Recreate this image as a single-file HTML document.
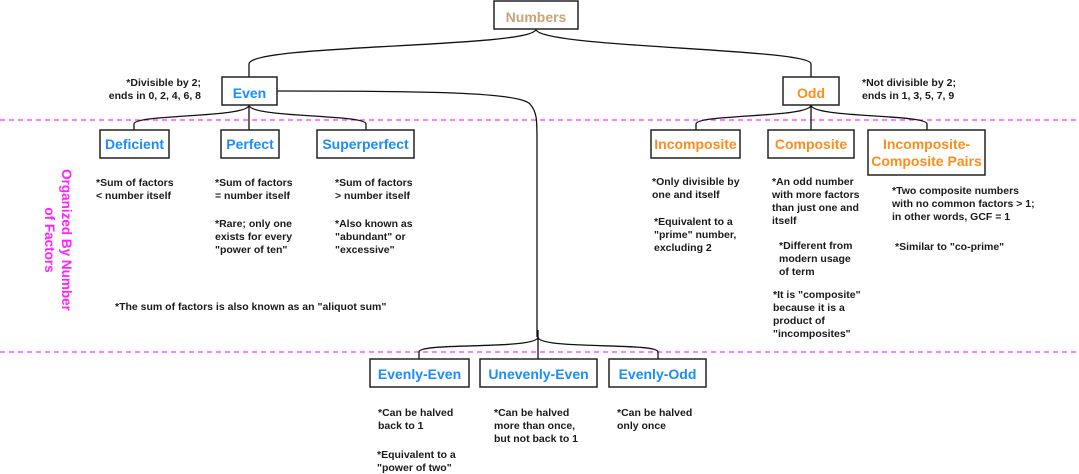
<!DOCTYPE html>
<html><head><meta charset="utf-8"><style>
html,body{margin:0;padding:0;background:#fff;}
svg{display:block;}
.n{font-family:"Liberation Sans",sans-serif;font-size:10.5px;font-weight:bold;fill:#1a1a1a;}
.b{font-family:"Liberation Sans",sans-serif;font-weight:bold;font-size:14px;text-anchor:middle;}
.blue{fill:#1a8cff;}
.or{fill:#ff8c1a;}
rect{fill:#fff;stroke:#222;stroke-width:1.5;}
path{fill:none;stroke:#111;stroke-width:1.3;}
</style></head><body>
<svg width="1079" height="474" viewBox="0 0 1079 474" xmlns="http://www.w3.org/2000/svg">
<line x1="0" y1="120" x2="1079" y2="120" stroke="#ff33ff" stroke-width="1.3" stroke-dasharray="5,4"/>
<line x1="0" y1="352" x2="1079" y2="352" stroke="#ff33ff" stroke-width="1.3" stroke-dasharray="5,4"/>
<!-- connectors -->
<path d="M536 29 C536 48 249 44 249 64 L249 77"/>
<path d="M536 29 C536 48 811 48 811 64 L811 77"/>
<path d="M277 91 C420 91 520 92 530 104 C537 112 537 120 537 140 L537 337"/>
<path d="M249 105 L249 130"/>
<path d="M249 105 C249 118 134 114 134 124 L134 130"/>
<path d="M249 105 C249 118 366 114 366 124 L366 130"/>
<path d="M811 105 L811 130"/>
<path d="M811 105 C811 118 696 114 696 124 L696 130"/>
<path d="M811 105 C811 118 927 114 927 124 L927 130"/>
<path d="M538 330 L538 359"/>
<path d="M538 337 C538 350 419 342 419 352 L419 359"/>
<path d="M538 337 C538 350 658 342 658 352 L658 359"/>
<!-- boxes -->
<rect x="494" y="1" width="84" height="28"/>
<text class="b" x="536" y="22" font-size="17" fill="#c9a27a">Numbers</text>
<rect x="222" y="77" width="55" height="28"/>
<text class="b blue" x="249.5" y="98" font-size="17">Even</text>
<rect x="783" y="77" width="56" height="28"/>
<text class="b or" x="811" y="98" font-size="17">Odd</text>
<rect x="100" y="130" width="69" height="28"/><text class="b blue" x="134.5" y="149">Deficient</text>
<rect x="221" y="130" width="58" height="28"/><text class="b blue" x="250" y="149">Perfect</text>
<rect x="317" y="130" width="97" height="28"/><text class="b blue" x="365.5" y="149">Superperfect</text>
<rect x="651" y="130" width="89" height="28"/><text class="b or" x="695.5" y="149">Incomposite</text>
<rect x="768" y="130" width="86" height="28"/><text class="b or" x="811" y="149">Composite</text>
<rect x="868" y="130" width="117" height="45"/><text class="b or" x="926.5" y="149">Incomposite-</text><text class="b or" x="926.5" y="166">Composite Pairs</text>
<rect x="370" y="359" width="99" height="28"/><text class="b blue" x="419.5" y="379">Evenly-Even</text>
<rect x="480" y="359" width="117" height="28"/><text class="b blue" x="538.5" y="379">Unevenly-Even</text>
<rect x="609" y="359" width="97" height="28"/><text class="b blue" x="657.5" y="379">Evenly-Odd</text>
<!-- notes -->
<text class="n" text-anchor="end"><tspan x="201" y="86">*Divisible by 2;</tspan><tspan x="201" y="99">ends in 0, 2, 4, 6, 8</tspan></text>
<text class="n"><tspan x="862" y="86">*Not divisible by 2;</tspan><tspan x="862" y="99">ends in 1, 3, 5, 7, 9</tspan></text>
<text class="n"><tspan x="96" y="186">*Sum of factors</tspan><tspan x="96" y="199">&lt; number itself</tspan></text>
<text class="n"><tspan x="215" y="186">*Sum of factors</tspan><tspan x="215" y="199">= number itself</tspan><tspan x="215" y="227">*Rare; only one</tspan><tspan x="215" y="240">exists for every</tspan><tspan x="215" y="253">"power of ten"</tspan></text>
<text class="n"><tspan x="335" y="186">*Sum of factors</tspan><tspan x="335" y="199">&gt; number itself</tspan><tspan x="335" y="227">*Also known as</tspan><tspan x="335" y="240">"abundant" or</tspan><tspan x="335" y="253">"excessive"</tspan></text>
<text class="n" x="115" y="310">*The sum of factors is also known as an "aliquot sum"</text>
<text class="n"><tspan x="652" y="185">*Only divisible by</tspan><tspan x="652" y="198">one and itself</tspan><tspan x="654" y="225">*Equivalent to a</tspan><tspan x="654" y="238">"prime" number,</tspan><tspan x="654" y="251">excluding 2</tspan></text>
<text class="n"><tspan x="772" y="185">*An odd number</tspan><tspan x="772" y="198">with more factors</tspan><tspan x="772" y="211">than just one and</tspan><tspan x="772" y="224">itself</tspan><tspan x="779" y="249">*Different from</tspan><tspan x="779" y="262">modern usage</tspan><tspan x="779" y="275">of term</tspan><tspan x="773" y="298">*It is "composite"</tspan><tspan x="773" y="311">because it is a</tspan><tspan x="773" y="324">product of</tspan><tspan x="773" y="337">"incomposites"</tspan></text>
<text class="n"><tspan x="892" y="194">*Two composite numbers</tspan><tspan x="892" y="207">with no common factors &gt; 1;</tspan><tspan x="892" y="220">in other words, GCF = 1</tspan><tspan x="895" y="250">*Similar to "co-prime"</tspan></text>
<text class="n"><tspan x="378" y="416">*Can be halved</tspan><tspan x="378" y="429">back to 1</tspan><tspan x="377" y="458">*Equivalent to a</tspan><tspan x="377" y="471">"power of two"</tspan></text>
<text class="n"><tspan x="494" y="416">*Can be halved</tspan><tspan x="494" y="429">more than once,</tspan><tspan x="494" y="442">but not back to 1</tspan></text>
<text class="n"><tspan x="617" y="416">*Can be halved</tspan><tspan x="617" y="429">only once</tspan></text>
<g transform="translate(62,240) rotate(90)" font-family="Liberation Sans,sans-serif" font-weight="bold" font-size="13.5" fill="#ff22ff" text-anchor="middle">
<text x="0" y="0">Organized By Number</text>
<text x="0" y="17">of Factors</text>
</g>
</svg>
</body></html>
